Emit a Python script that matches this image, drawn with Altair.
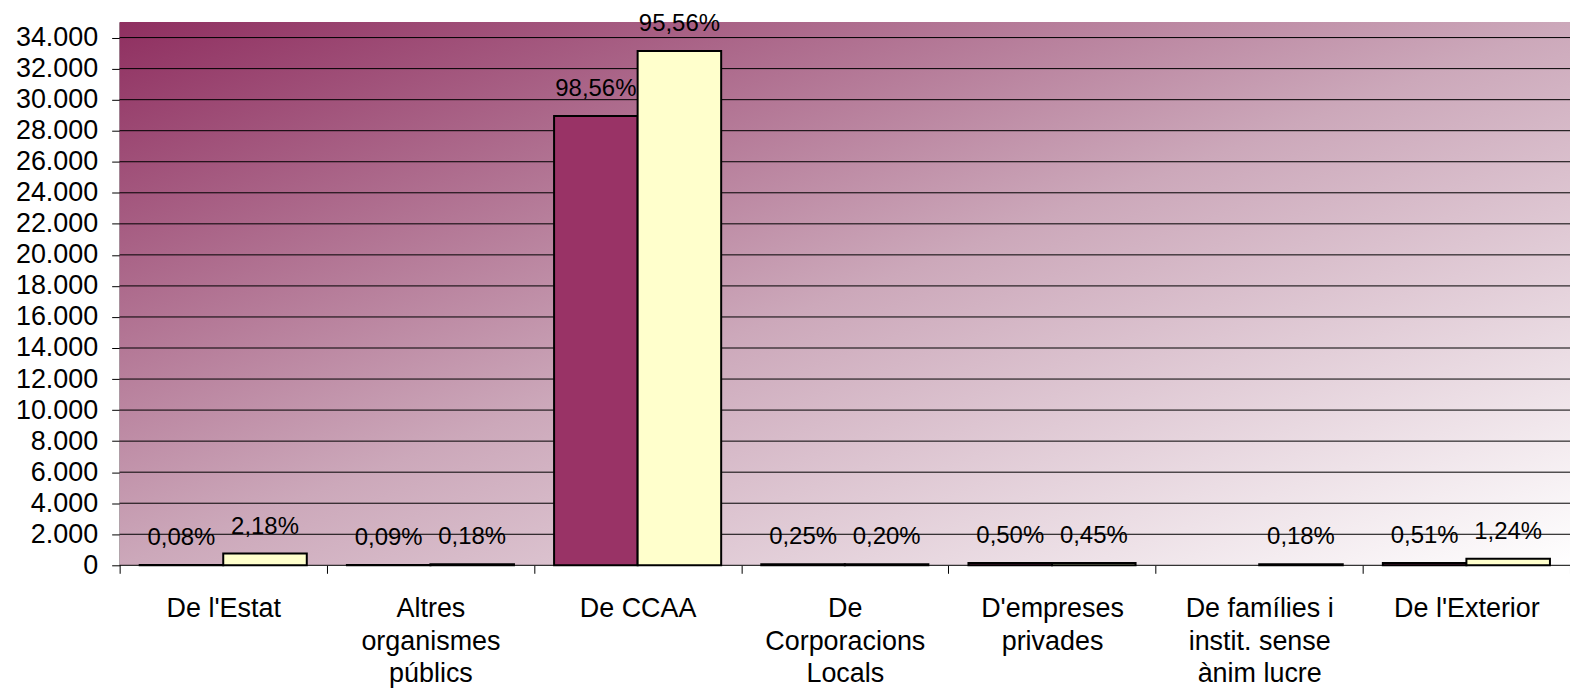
import altair as alt
import pandas as pd

categories = [
    "De l'Estat",
    "Altres\norganismes\npúblics",
    "De CCAA",
    "De\nCorporacions\nLocals",
    "D'empreses\nprivades",
    "De famílies i\ninstit. sense\nànim lucre",
    "De l'Exterior",
]
series_names = ["Sèrie 1", "Sèrie 2"]
values_s1 = [23, 26, 28950, 73, 147, None, 150]
values_s2 = [756, 62, 33130, 69, 156, 62, 430]
labels_s1 = ["0,08%", "0,09%", "98,56%", "0,25%", "0,50%", "", "0,51%"]
labels_s2 = ["2,18%", "0,18%", "95,56%", "0,20%", "0,45%", "0,18%", "1,24%"]
y_ticks = list(range(0, 34001, 2000))

rows = []
for i, c in enumerate(categories):
    rows.append({"cat": c, "serie": series_names[0], "value": values_s1[i], "label": labels_s1[i]})
    rows.append({"cat": c, "serie": series_names[1], "value": values_s2[i], "label": labels_s2[i]})
df = pd.DataFrame(rows)
grid_df = pd.DataFrame({"v": y_ticks})
bg_df = pd.DataFrame({"k": [0]})

FONT = "Liberation Sans"
W, H = 1455, 545

x_axis = alt.Axis(
    title=None,
    labelAngle=0,
    labelExpr="datum.value ? split(datum.value, '\\n') : ''",
    labelFont=FONT,
    labelFontSize=27,
    labelColor="black",
    labelLineHeight=33,
    labelBaseline="top",
    labelPadding=22,
    tickBand="extent",
    tickSize=8,
    tickColor="black",
    domain=False,
    grid=False,
    labelLimit=300,
)
y_axis = alt.Axis(
    title=None,
    values=y_ticks,
    labelExpr="replace(format(datum.value, ','), ',', '.')",
    labelFont=FONT,
    labelFontSize=27,
    labelColor="black",
    labelPadding=14,
    tickSize=8,
    tickColor="black",
    domainColor="black",
    grid=False,
)
x_enc = alt.X("cat:N", sort=categories,
              scale=alt.Scale(paddingInner=0, paddingOuter=0), axis=x_axis)
xoff = alt.XOffset("serie:N", sort=series_names,
                   scale=alt.Scale(paddingInner=0, paddingOuter=0.24))
y_scale = alt.Scale(domain=[0, 35000], nice=False)

background = alt.Chart(bg_df).mark_rect(
    color=alt.LinearGradient(
        gradient="linear",
        stops=[
            alt.GradientStop(color="#8f2f60", offset=0),
            alt.GradientStop(color="#cca8ba", offset=0.5),
            alt.GradientStop(color="#ffffff", offset=1),
        ],
        x1=0, y1=0, x2=1, y2=1,
    )
).encode(
    x=alt.value(0), x2=alt.value(W), y=alt.value(0), y2=alt.value(H)
)

grid = alt.Chart(grid_df).mark_rule(color="black", strokeWidth=1).encode(
    y=alt.Y("v:Q", scale=y_scale, axis=y_axis)
)

bars = alt.Chart(df).mark_bar(stroke="black", strokeWidth=2).encode(
    x=x_enc,
    xOffset=xoff,
    y=alt.Y("value:Q", scale=y_scale, axis=y_axis),
    color=alt.Color(
        "serie:N",
        sort=series_names,
        scale=alt.Scale(domain=series_names, range=["#993366", "#FFFFCC"]),
        legend=None,
    ),
)

text = alt.Chart(df).transform_filter("datum.label != ''").mark_text(
    font=FONT, fontSize=24, color="black", baseline="middle", dy=-27
).encode(
    x=alt.X("cat:N", sort=categories, axis=x_axis),
    xOffset=xoff,
    y=alt.Y("value:Q", scale=y_scale, axis=y_axis),
    text="label:N",
)

chart = (
    alt.layer(background, grid, bars, text)
    .properties(
        width=W,
        height=H,
        autosize=alt.AutoSizeParams(type="none"),
        padding={"left": 112, "top": 13, "right": 0, "bottom": 125},
        background="white",
    )
    .configure_view(stroke=None)
)

chart.save("out.html", embed_options={"renderer": "svg", "actions": False})
